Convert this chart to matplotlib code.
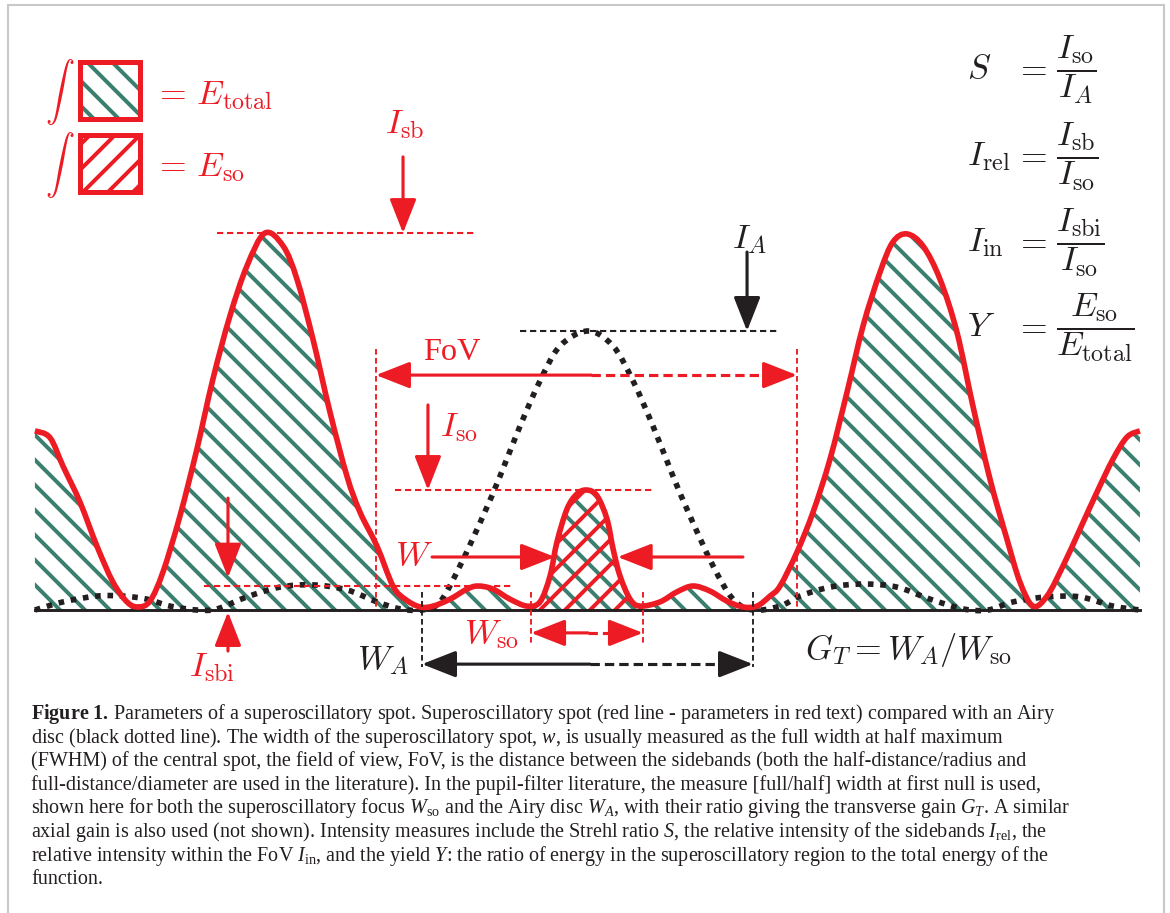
import numpy as np
import matplotlib.pyplot as plt
from matplotlib.path import Path
from matplotlib.patches import Rectangle, FancyArrowPatch, ArrowStyle, PathPatch

plt.rcParams['font.family'] = 'Liberation Serif'
plt.rcParams['mathtext.fontset'] = 'custom'
plt.rcParams['mathtext.rm'] = 'Liberation Serif'
plt.rcParams['mathtext.it'] = 'Liberation Serif:italic'
plt.rcParams['mathtext.bf'] = 'Liberation Serif:bold'
plt.rcParams['hatch.linewidth'] = 1.9

RED = '#ed1c24'
TEAL = '#3a7f6f'
INK = '#231f20'

# Superoscillatory spot (red line).
# x in units of the Airy first-null radius, y in units of the Airy peak.
so_x = [-3.352, -3.261, -3.182, -3.079, -2.976, -2.879, -2.794, -2.727, -2.655,
        -2.576, -2.473, -2.370, -2.273, -2.170, -2.067, -1.958, -1.848, -1.764,
        -1.667, -1.564, -1.461, -1.382, -1.279, -1.182, -1.109, -1.018, -0.939,
        -0.836, -0.733, -0.667, -0.576, -0.473, -0.370, -0.291, -0.230, -0.188,
        -0.127, -0.067, -0.006, 0.055, 0.115, 0.152, 0.194, 0.255, 0.315, 0.436,
        0.539, 0.636, 0.739, 0.842, 0.939, 1.024, 1.103, 1.164, 1.267, 1.364,
        1.467, 1.570, 1.667, 1.770, 1.848, 1.933, 2.030, 2.133, 2.236, 2.333,
        2.436, 2.539, 2.618, 2.697, 2.782, 2.879, 2.982, 3.085, 3.182, 3.267, 3.345]
so_y = [0.642, 0.618, 0.516, 0.387, 0.229, 0.100, 0.029, 0.011, 0.032,
        0.136, 0.337, 0.577, 0.828, 1.054, 1.233, 1.351, 1.305, 1.186,
        0.971, 0.710, 0.480, 0.351, 0.229, 0.086, 0.039, 0.011, 0.014,
        0.039, 0.075, 0.086, 0.075, 0.039, 0.014, 0.029, 0.122, 0.244,
        0.362, 0.416, 0.430, 0.409, 0.326, 0.219, 0.122, 0.039, 0.014, 0.029,
        0.065, 0.086, 0.068, 0.032, 0.011, 0.014, 0.050, 0.086, 0.208, 0.351,
        0.541, 0.781, 1.018, 1.211, 1.319, 1.348, 1.305, 1.186, 0.996, 0.731,
        0.470, 0.254, 0.100, 0.014, 0.050, 0.158, 0.290, 0.423, 0.541, 0.620, 0.642]

# Airy disc (black dotted line)
airy_x = [-3.352, -3.182, -2.976, -2.818, -2.673, -2.533, -2.370, -2.248, -2.067,
          -1.867, -1.667, -1.461, -1.279, -1.139, -1.006, -0.897, -0.776, -0.636,
          -0.533, -0.412, -0.291, -0.170, 0.0, 0.152, 0.273, 0.394, 0.515, 0.618,
          0.758, 0.879, 1.0, 1.164, 1.285, 1.467, 1.667, 1.873, 2.073, 2.273,
          2.424, 2.576, 2.782, 2.982, 3.182, 3.345]
airy_y = [0.0, 0.029, 0.050, 0.050, 0.039, 0.014, 0.0, 0.004, 0.047,
          0.082, 0.090, 0.072, 0.029, 0.004, 0.0, 0.029, 0.158, 0.337,
          0.480, 0.659, 0.821, 0.946, 1.0, 0.946, 0.821, 0.659, 0.480, 0.337,
          0.158, 0.039, 0.0, 0.014, 0.050, 0.082, 0.093, 0.082, 0.039, 0.004,
          0.0, 0.029, 0.047, 0.047, 0.014, 0.0]

fov_edges = [-1.285, 1.267]
wso_edges = [-0.345, 0.333]
wa_edges = [-1.006, 1.0]
fwhm_edges = [-0.20, 0.18]

so_x, so_y = np.array(so_x), np.array(so_y)
airy_x, airy_y = np.array(airy_x), np.array(airy_y)
y_sb = so_y.max()
y_A = airy_y.max()
y_so = so_y[np.abs(so_x) < 0.3].max()
y_sbi = so_y[(np.abs(so_x) > 0.5) & (np.abs(so_x) < 1.2)].max()


def smooth_path(x, y, close=False):
    # Catmull-Rom through the read points, drawn as cubic Bezier segments
    pts = np.column_stack([x, y])
    n = len(pts)
    verts, codes = [pts[0]], [Path.MOVETO]
    for i in range(n - 1):
        p0, p1 = pts[max(i - 1, 0)], pts[i]
        p2, p3 = pts[i + 1], pts[min(i + 2, n - 1)]
        verts += [p1 + (p2 - p0) / 6, p2 - (p3 - p1) / 6, p2]
        codes += [Path.CURVE4] * 3
    if close:
        verts += [(x[-1], 0), (x[0], 0), (x[0], 0)]
        codes += [Path.LINETO, Path.LINETO, Path.CLOSEPOLY]
    return Path(verts, codes)


fig = plt.figure(figsize=(7.8, 6.0933), dpi=150)
ax = fig.add_axes([0, 0, 1, 1])
ax.set_xlim(-3.5636, 3.5273)
ax.set_ylim(-1.086, 2.19)
ax.axis('off')

fig.patches.append(Rectangle((8 / 1170, -0.01), 1156 / 1170, 1.0034,
                             transform=fig.transFigure, fill=False,
                             edgecolor='#c8c8c8', lw=1.0))

MATH = dict(math_fontfamily='cm')

# hatched areas under the superoscillatory curve
ax.add_patch(PathPatch(smooth_path(so_x, so_y, close=True), facecolor='none',
                       edgecolor=TEAL, lw=0, hatch='\\\\', zorder=1))
red_fill = PathPatch(smooth_path(so_x, so_y, close=True), facecolor='none',
                     edgecolor=RED, lw=0, hatch='//', zorder=1.5)
ax.add_patch(red_fill)
red_fill.set_clip_path(Rectangle((wso_edges[0], -0.1), wso_edges[1] - wso_edges[0], 1,
                                 transform=ax.transData))

ax.plot([so_x[0], so_x[-1]], [0, 0], color=INK, lw=1.4, zorder=2)
ax.add_patch(PathPatch(smooth_path(airy_x, airy_y), facecolor='none', edgecolor=INK,
                       lw=2.7, linestyle=(0, (1, 1.2)), capstyle='butt', zorder=3))
ax.add_patch(PathPatch(smooth_path(so_x, so_y), facecolor='none', edgecolor=RED,
                       lw=2.7, joinstyle='round', zorder=4))

HEAD = 0.18  # arrow head length in x units


def arrow(p0, p1, color, ls='-'):
    style = ArrowStyle('-|>', head_length=14, head_width=5.5)
    ax.add_patch(FancyArrowPatch(p0, p1, arrowstyle=style, mutation_scale=1,
                                 color=color, lw=1.5, linestyle=ls,
                                 shrinkA=0, shrinkB=0, zorder=6))


def dashed_arrow(x0, x1, y, color):
    step = HEAD if x1 > x0 else -HEAD
    ax.plot([x0, x1 - step], [y, y], color=color, lw=1.5,
            linestyle=(0, (3, 1.6)), zorder=6)
    arrow((x1 - step * 1.02, y), (x1, y), color)


def guide(xs, ys, color, lw=1.0):
    ax.plot(xs, ys, color=color, lw=lw, linestyle=(0, (3, 1.8)), zorder=5)


def label(x, y, s, color, size=16.5, ha='center'):
    ax.text(x, y, s, color=color, fontsize=size, ha=ha, va='center', **MATH)


# I_sb
guide([-2.248, -0.685], [y_sb, y_sb], RED)
arrow((-1.121, 1.624), (-1.121, y_sb), RED)
label(-1.109, 1.742, r'$I_{\mathrm{sb}}$', RED)

# I_A
guide([-0.412, 1.152], [y_A, y_A], INK)
arrow((0.964, 1.283), (0.964, y_A), INK)
label(0.975, 1.33, r'$I_A$', INK)

# FoV
for xe in fov_edges:
    guide([xe, xe], [0.935, 0], RED, lw=0.9)
arrow((0.02, 0.842), (fov_edges[0], 0.842), RED)
dashed_arrow(0.02, fov_edges[1], 0.842, RED)
label(-0.824, 0.925, 'FoV', RED, size=15.5)

# I_so
guide([-1.170, 0.394], [y_so, y_so], RED)
arrow((-0.970, 0.735), (-0.970, y_so), RED)
label(-0.78, 0.656, r'$I_{\mathrm{so}}$', RED)

# W (FWHM)
arrow((-0.945, 0.19), (fwhm_edges[0], 0.19), RED)
arrow((0.939, 0.19), (fwhm_edges[1], 0.19), RED)
label(-1.055, 0.194, r'$W$', RED)

# I_sbi
guide([-2.327, -0.461], [y_sbi, y_sbi], RED)
arrow((-2.182, 0.401), (-2.182, y_sbi + 0.03), RED)
arrow((-2.182, -0.147), (-2.182, -0.007), RED)
label(-2.279, -0.204, r'$I_{\mathrm{sbi}}$', RED)

# W_so
for xe in wso_edges:
    guide([xe, xe], [0.065, -0.122], RED, lw=0.9)
arrow((0.0, -0.082), (wso_edges[0], -0.082), RED)
dashed_arrow(0.0, wso_edges[1], -0.082, RED)
label(-0.582, -0.086, r'$W_{\mathrm{so}}$', RED)

# W_A
for xe in wa_edges:
    guide([xe, xe], [0.065, -0.204], INK, lw=0.9)
arrow((0.012, -0.194), (wa_edges[0], -0.194), INK)
dashed_arrow(0.012, wa_edges[1], -0.194, INK)
label(-1.242, -0.176, r'$W_A$', INK)

label(1.315, -0.14, r'$G_T = W_A/W_{\mathrm{so}}$', INK, ha='left')

# legend boxes
for yb, hatch, hc in [(1.760, '\\\\', TEAL), (1.498, '//', RED)]:
    ax.add_patch(Rectangle((-3.079, yb), 0.364, 0.205, facecolor='none',
                           edgecolor=hc, lw=0, hatch=hatch, zorder=2))
    ax.add_patch(Rectangle((-3.079, yb), 0.364, 0.205, facecolor='none',
                           edgecolor=RED, lw=2.4, zorder=3))
    label(-3.2, yb + 0.1, r'$\int$', RED, size=14)
label(-2.636, 1.849, r'$=\,E_{\mathrm{total}}$', RED, ha='left')
label(-2.636, 1.591, r'$=\,E_{\mathrm{so}}$', RED, ha='left')

# right-hand definitions
rows = [(1.939, r'$S$', r'$\dfrac{I_{\mathrm{so}}}{I_A}$'),
        (1.627, r'$I_{\mathrm{rel}}$', r'$\dfrac{I_{\mathrm{sb}}}{I_{\mathrm{so}}}$'),
        (1.319, r'$I_{\mathrm{in}}$', r'$\dfrac{I_{\mathrm{sbi}}}{I_{\mathrm{so}}}$'),
        (1.014, r'$Y$', r'$\dfrac{E_{\mathrm{so}}}{E_{\mathrm{total}}}$')]
for yr, lhs, rhs in rows:
    label(2.297, yr, lhs, INK, ha='left')
    label(2.682, yr, r'$=$', INK)
    label(2.836, yr, rhs, INK, ha='left')

caption = [
    r"$\mathbf{Figure\ 1.}\,$Parameters of a superoscillatory spot. Superoscillatory spot (red line - parameters in red text) compared with an Airy",
    r"disc (black dotted line). The width of the superoscillatory spot, $w$, is usually measured as the full width at half maximum",
    "(FWHM) of the central spot, the field of view, FoV, is the distance between the sidebands (both the half-distance/radius and",
    "full-distance/diameter are used in the literature). In the pupil-filter literature, the measure [full/half] width at first null is used,",
    r"shown here for both the superoscillatory focus $W_{\mathrm{so}}$ and the Airy disc $W_A$, with their ratio giving the transverse gain $G_T$. A similar",
    r"axial gain is also used (not shown). Intensity measures include the Strehl ratio $S$, the relative intensity of the sidebands $I_{\mathrm{rel}}$, the",
    r"relative intensity within the FoV $I_{\mathrm{in}}$, and the yield $Y$: the ratio of energy in the superoscillatory region to the total energy of the",
    "function.",
]
for i, line in enumerate(caption):
    fig.text(31 / 1170, 1 - (719 + 23.6 * i) / 914, line, fontsize=9.65,
             color=INK, ha='left', va='baseline')

fig.savefig('out.png', dpi=150)
